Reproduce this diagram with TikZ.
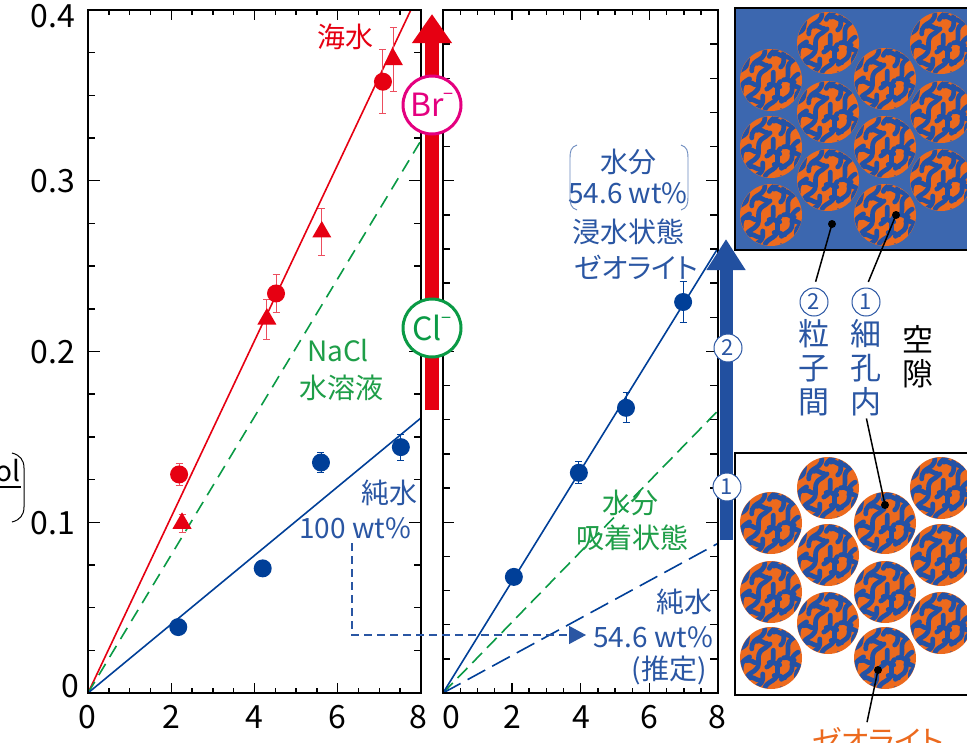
\documentclass[tikz,border=0pt]{standalone}
\usepackage{fontspec}
\setmainfont{Noto Sans CJK JP}[RawFeature=+palt]
\usetikzlibrary{arrows.meta,shapes.geometric}
\definecolor{zred}{HTML}{E60012}
\definecolor{zredl}{HTML}{EC4E5E}
\definecolor{zgreen}{HTML}{0A9A45}
\definecolor{zgtext}{HTML}{1E9E48}
\definecolor{zblue}{HTML}{003F98}
\definecolor{zbtext}{HTML}{2A56A3}
\definecolor{zmag}{HTML}{E4007F}
\definecolor{zorange}{HTML}{EC6A1E}
\definecolor{zpanel}{HTML}{3C67AF}
\definecolor{zworm}{HTML}{2452A5}
\definecolor{zarrowb}{HTML}{2250A0}
\newcommand\zerrbar[3]{\draw[ebar] (#1,{#2-#3}) -- (#1,{#2+#3}) (#1,{#2-#3}) ++(-3.5pt,0pt) -- ++(7pt,0pt) (#1,{#2+#3}) ++(-3.5pt,0pt) -- ++(7pt,0pt);}
\newcommand\zsupminus{\raisebox{0.5em}{\fontsize{18}{18}\selectfont −}}
\tikzset{
  frm/.style={line width=2pt, black},
  tk/.style={line width=1.4pt, black},
  fitline/.style={line width=1.6pt},
  ebar/.style={line width=0.9pt},
  mdot/.style={circle, fill, inner sep=0pt, minimum size=18pt},
  mtri/.style={regular polygon, regular polygon sides=3, fill, inner sep=0pt, minimum size=22pt},
  ticklab/.style={font=\fontsize{32}{36}\selectfont, inner sep=0pt},
  lab/.style={font=\fontsize{28}{32}\selectfont, inner sep=0pt},
  vlab/.style={font=\fontsize{31}{34}\selectfont, inner sep=0pt, align=center},
  ion/.style={circle, draw, line width=3pt, fill=white, minimum size=58pt, inner sep=0pt, font=\fontsize{32}{34}\selectfont},
  cnum/.style={circle, draw=zbtext, line width=1pt, fill=white, text=zbtext, minimum size=28pt, inner sep=0pt, font=\fontsize{22}{24}\selectfont},
  calldot/.style={circle, fill=black, inner sep=0pt, minimum size=8pt},
  callline/.style={line width=1.5pt, black},
  zeo/.pic={
    \fill[zorange] (0,0) circle[radius=31];
    \begin{scope}
      \clip (0,0) circle[radius=30.6];
      \begin{scope}[rotate=62, zworm, line width=4.7pt, line cap=round]
        \foreach \vv/\aa/\bb [count=\i] in {-31/-40/40,-20.5/-40/-9,-20.5/-1/40,-10/-40/12,-10/20/40,0.5/-40/-18,0.5/-10/8,0.5/16/40,11/-40/3,11/11/40,21.5/-40/-22,21.5/-14/18,21.5/26/40,32/-40/40}
          \draw plot[domain=\aa:\bb, samples=11, smooth] (\x,{\vv+2.6*sin(\x*13+\i*70)});
        \foreach \uu/\ww in {-30/-31,-14/-20.5,8/-20.5,24/-10,-28/-10,-5/0.5,26/0.5,-14/11,6/11,30/11,-26/21.5,4/21.5}
          \draw (\uu,\ww) .. controls (\uu+4,\ww+3) and (\uu+1,\ww+7) .. (\uu+3,\ww+10.5);
      \end{scope}
    \end{scope}
  }
}
\begin{document}
\begin{tikzpicture}[x=1pt,y=-1pt]
\useasboundingbox (0,0) rectangle (967,742);
\clip (0,0) rectangle (967,742);
\fill[white] (0,0) rectangle (967,742);

% ---------------- left plot ----------------
\begin{scope}[shift={(88,693)}, x=41.6pt, y=1707.5pt]
  \coordinate (L0) at (0,0);
  \coordinate (Lred) at (7.76,0.4);
  \coordinate (Lgreen) at (8,0.3234);
  \coordinate (Lblue) at (8,0.161);
  \draw[fitline, zred] (L0) -- (Lred);
  \draw[fitline, zgreen, dash pattern=on 13pt off 8pt] (L0) -- (Lgreen);
  \draw[fitline, zblue] (L0) -- (Lblue);
  \begin{scope}[color=zredl]
    \zerrbar{2.19}{0.128}{0.0064}
    \zerrbar{4.52}{0.234}{0.0114}
    \zerrbar{7.09}{0.358}{0.0187}
    \zerrbar{2.26}{0.0994}{0.0053}
    \zerrbar{4.30}{0.219}{0.0117}
    \zerrbar{5.62}{0.270}{0.0140}
    \zerrbar{7.34}{0.371}{0.0187}
  \end{scope}
  \begin{scope}[color=zblue]
    \zerrbar{5.60}{0.135}{0.0060}
    \zerrbar{7.52}{0.144}{0.0076}
  \end{scope}
  \node[mdot, zred] (rc1) at (2.19,0.128) {};
  \node[mdot, zred] (rc2) at (4.52,0.234) {};
  \node[mdot, zred] (rc3) at (7.09,0.358) {};
  \node[mtri, zred] (rt1) at (2.26,0.0994) {};
  \node[mtri, zred] (rt2) at (4.30,0.219) {};
  \node[mtri, zred] (rt3) at (5.62,0.270) {};
  \node[mtri, zred] (rt4) at (7.34,0.371) {};
  \node[mdot, zblue] (bc1) at (2.17,0.0386) {};
  \node[mdot, zblue] (bc2) at (4.20,0.073) {};
  \node[mdot, zblue] (bc3) at (5.60,0.135) {};
  \node[mdot, zblue] (bc4) at (7.52,0.144) {};
  \draw[frm] (0,0) rectangle (8,0.4);
  \foreach \t in {0.5,1,1.5,2.5,3,3.5,4.5,5,5.5,6.5,7,7.5} {
    \draw[tk] (\t,0) -- ++(0pt,5pt);
    \draw[tk] (\t,0.4) -- ++(0pt,-5pt);
  }
  \foreach \t in {2,4,6} {
    \draw[tk] (\t,0) -- ++(0pt,10pt);
    \draw[tk] (\t,0.4) -- ++(0pt,-10pt);
  }
  \foreach \t in {0.025,0.05,0.075,0.125,0.15,0.175,0.225,0.25,0.275,0.325,0.35,0.375} {
    \draw[tk] (0,\t) -- ++(7pt,0pt);
    \draw[tk] (8,\t) -- ++(-7pt,0pt);
  }
  \foreach \t in {0.1,0.2,0.3} {
    \draw[tk] (0,\t) -- ++(12pt,0pt);
    \draw[tk] (8,\t) -- ++(-12pt,0pt);
  }
\end{scope}

% ---------------- right plot ----------------
\begin{scope}[shift={(443,693)}, x=34.4pt, y=1707.5pt]
  \coordinate (R0) at (0,0);
  \coordinate (Rblue) at (8,0.2608);
  \coordinate (Rgreen) at (8,0.1655);
  \coordinate (Rbd) at (8,0.0877);
  \draw[fitline, zgreen, dash pattern=on 14pt off 7pt] (R0) -- (Rgreen);
  \draw[fitline, zblue, dash pattern=on 20pt off 8pt] (R0) -- (Rbd);
  \draw[fitline, zblue] (R0) -- (Rblue);
  \begin{scope}[color=zblue]
    \zerrbar{3.95}{0.129}{0.0064}
    \zerrbar{5.32}{0.167}{0.0088}
    \zerrbar{6.98}{0.229}{0.0120}
  \end{scope}
  \node[mdot, zblue] (pc1) at (2.06,0.068) {};
  \node[mdot, zblue] (pc2) at (3.95,0.129) {};
  \node[mdot, zblue] (pc3) at (5.32,0.167) {};
  \node[mdot, zblue] (pc4) at (6.98,0.229) {};
  \draw[frm] (0,0) rectangle (8,0.4);
  \foreach \t in {0.5,1,1.5,2.5,3,3.5,4.5,5,5.5,6.5,7,7.5} {
    \draw[tk] (\t,0) -- ++(0pt,5pt);
    \draw[tk] (\t,0.4) -- ++(0pt,-5pt);
  }
  \foreach \t in {2,4,6} {
    \draw[tk] (\t,0) -- ++(0pt,10pt);
    \draw[tk] (\t,0.4) -- ++(0pt,-10pt);
  }
  \foreach \t in {0.02,0.04,0.06,0.08,0.12,0.14,0.16,0.18,0.22,0.24,0.26,0.28,0.32,0.34,0.36,0.38} {
    \draw[tk] (0,\t) -- ++(7pt,0pt);
    \draw[tk] (8,\t) -- ++(-8pt,0pt);
  }
  \foreach \t in {0.1,0.2,0.3} {
    \draw[tk] (0,\t) -- ++(11pt,0pt);
    \draw[tk] (8,\t) -- ++(-12pt,0pt);
  }
\end{scope}

% ---------------- tick labels ----------------
\node[ticklab, anchor=east] (y4) at (75,16) {0.4};
\node[ticklab, anchor=east] (y3) at (75,181) {0.3};
\node[ticklab, anchor=east] (y2) at (75,352) {0.2};
\node[ticklab, anchor=east] (y1) at (75,523) {0.1};
\node[ticklab, anchor=east] (y0) at (79,686) {0};
\node[ticklab] (lx0) at (87,717) {0};
\node[ticklab] (lx2) at (171,717) {2};
\node[ticklab] (lx4) at (254,717) {4};
\node[ticklab] (lx6) at (337,717) {6};
\node[ticklab] (lx8) at (418,717) {8};
\node[ticklab] (rx0) at (451,717) {0};
\node[ticklab] (rx2) at (512,717) {2};
\node[ticklab] (rx4) at (581,717) {4};
\node[ticklab] (rx6) at (649,717) {6};
\node[ticklab] (rx8) at (717,717) {8};

% partial y-axis label
\node[ticklab, font=\fontsize{28}{30}\selectfont, anchor=south east] (ylab) at (21,482) {mol};
\draw[line width=1.2pt] (-2,487) -- (21,487);
\draw[line width=1pt] (12,453) .. controls (20,455) and (24,460) .. (24,468) -- (24,507) .. controls (24,515) and (20,520) .. (12,522);

% ---------------- plot labels ----------------
\node[lab, text=zred] (sea) at (345,37) {海水};
\node[lab, text=zgtext] (nacl) at (338,351) {NaCl};
\node[lab, text=zgtext] (nacl2) at (341,388) {水溶液};
\node[lab, text=zbtext] (pw) at (389,493) {純水};
\node[lab, text=zbtext, anchor=east] (pw2) at (411,528) {100 wt\%};

\node[lab, text=zbtext] (w1) at (628,162) {水分};
\node[lab, text=zbtext] (w2) at (628,193) {54.6 wt\%};
\node[lab, text=zbtext] (w3) at (628,232) {浸水状態};
\node[lab, text=zbtext] (w4) at (636,267) {ゼオライト};
\draw[zbtext!70, line width=0.9pt] (577,145) .. controls (571,147) and (570,151) .. (570,158) -- (570,197) .. controls (570,204) and (571,208) .. (577,210);
\draw[zbtext!70, line width=0.9pt] (681,145) .. controls (687,147) and (688,151) .. (688,158) -- (688,197) .. controls (688,204) and (687,208) .. (681,210);

\node[lab, text=zgtext] (g1) at (630,503) {水分};
\node[lab, text=zgtext] (g2) at (632,538) {吸着状態};
\node[lab, text=zbtext] (p1) at (684,602) {純水};
\node[lab, text=zbtext, anchor=east] (p2) at (713,637) {54.6 wt\%};
\node[lab, text=zbtext] (p3) at (669,670) {(推定)};

% dashed L arrow
\coordinate (la0) at (352,543);
\coordinate (la2) at (586,635);
\draw[zbtext, line width=1.3pt, dash pattern=on 8pt off 5pt, -{Triangle[length=17pt,width=18pt]}] (la0) |- (la2);

% ---------------- red arrow ----------------
\coordinate (ra0) at (432,410);
\coordinate (ra1) at (432,14);
\draw[zred, line width=14pt, -{Triangle[length=29pt,width=38pt]}] (ra0) -- (ra1);
\node[ion, draw=zmag, text=zmag] (br) at (432,105) {Br\zsupminus};
\node[ion, draw=zgreen, text=zgreen] (cl) at (432,328) {Cl\zsupminus};

% ---------------- particle panels ----------------
\draw[frm, fill=zpanel] (735,8) rectangle (990,250);
\foreach \px/\py in {771/80,771/147,771/215,828/43,828/112,828/180,885/79,885/147,885/215,941/43,941/112,941/180}
  \pic at (\px,\py) {zeo};
\draw[frm, fill=white] (735,453) rectangle (990,695);
\foreach \px/\py in {771/523,771/592,771/658,828/488,828/555,828/623,885/523,885/592,885/658,941/488,941/555,941/623}
  \pic at (\px,\py) {zeo};

% ---------------- blue arrow ----------------
\coordinate (ba0) at (726,540);
\coordinate (ba1) at (726,239);
\draw[zarrowb, line width=13pt, -{Triangle[length=31pt,width=37pt]}] (ba0) -- (ba1);
\node[cnum] (a2) at (728,348) {2};
\node[cnum] (a1) at (727,487) {1};

% ---------------- callouts ----------------
\node[calldot] (dA) at (832,224) {};
\node[calldot] (dB) at (896,215) {};
\node[calldot] (dC) at (885,505) {};
\node[calldot] (dD) at (878,670) {};
\node[cnum] (c2) at (814,302) {2};
\node[cnum] (c1) at (866,302) {1};
\node[vlab, text=zbtext] (lab2) at (814,368) {粒\\子\\間};
\node[vlab, text=zbtext] (lab1) at (866,368) {細\\孔\\内};
\node[vlab] (lab0) at (918,357) {空\\隙};
\node[font=\fontsize{30}{32}\selectfont, text=zorange, inner sep=0pt, anchor=north] (zlab) at (878,727) {ゼオライト};
\draw[callline, shorten >=6pt] (dA.center) -- (c2.north);
\draw[callline, shorten >=6pt] (dB.center) -- (c1.north);
\draw[callline, shorten <=2pt] (lab1.south) -- (dC.center);
\draw[callline, shorten >=5pt] (dD.center) -- (zlab.north -| 866,0);
\end{tikzpicture}
\end{document}
